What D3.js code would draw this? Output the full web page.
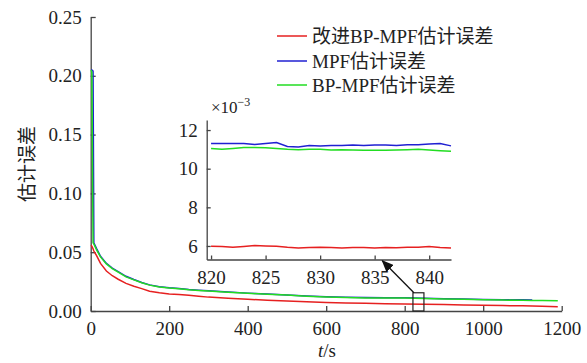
<!DOCTYPE html>
<html>
<head>
<meta charset="utf-8">
<script src="https://cdn.jsdelivr.net/npm/d3@7"></script>
<style>
  body { margin: 0; background: #fff; }
  svg text { font-family: "Times New Roman", "Liberation Serif", Times, "DejaVu Serif", serif, "Noto Sans CJK SC"; fill: #222; }
</style>
</head>
<body>
<div id="chart"></div>
<script>
// main plot data (t in s, error)
var times = [1, 3, 6, 8, 15, 25, 40, 55, 70, 90, 110, 130, 150, 175, 200, 225, 250, 275, 300, 350, 400, 450, 500, 550, 600, 650, 700, 750, 800, 850, 900, 950, 1000, 1050, 1100, 1125, 1150, 1190];
var redErr = [0.056, 0.055, 0.053, 0.051, 0.047, 0.0405, 0.034, 0.030, 0.027, 0.0235, 0.021, 0.019, 0.0168, 0.0155, 0.0145, 0.0141, 0.0134, 0.0126, 0.0118, 0.0108, 0.0100, 0.0092, 0.0085, 0.0078, 0.0072, 0.0068, 0.0065, 0.0062, 0.0060, 0.0057, 0.0055, 0.0052, 0.0049, 0.0046, 0.0044, 0.0042, 0.0040, 0.0037];
var blueErr = [0.205, 0.205, 0.204, 0.058, 0.053, 0.0465, 0.0405, 0.0365, 0.0335, 0.0295, 0.0268, 0.0243, 0.0222, 0.0207, 0.0197, 0.0192, 0.0183, 0.0177, 0.0172, 0.0162, 0.0152, 0.0145, 0.0137, 0.0128, 0.0121, 0.0117, 0.0114, 0.0112, 0.0112, 0.0108, 0.0105, 0.0101, 0.0098, 0.0096, 0.0095, 0.0094, null, null];
var greenErr = [0.205, 0.203, 0.058, 0.057, 0.052, 0.046, 0.040, 0.036, 0.033, 0.029, 0.0265, 0.024, 0.022, 0.0205, 0.0195, 0.019, 0.018, 0.0175, 0.017, 0.016, 0.015, 0.0143, 0.0135, 0.0125, 0.0118, 0.0114, 0.0111, 0.0110, 0.0110, 0.0106, 0.0103, 0.0099, 0.0095, 0.0093, 0.0091, 0.0090, 0.0089, 0.0087];

// inset data (x10^-3)
var insetTimes = [820, 821, 822, 823, 824, 825, 826, 827, 828, 829, 830, 831, 832, 833, 834, 835, 836, 837, 838, 839, 840, 841, 842];
var insetBlue = [11.3, 11.3, 11.3, 11.3, 11.25, 11.3, 11.35, 11.15, 11.12, 11.2, 11.18, 11.2, 11.2, 11.22, 11.2, 11.22, 11.22, 11.2, 11.24, 11.24, 11.28, 11.3, 11.18];
var insetGreen = [11.05, 11.0, 11.05, 11.1, 11.1, 11.08, 11.05, 11.0, 10.98, 11.0, 11.0, 10.97, 10.98, 10.97, 10.95, 10.96, 10.95, 10.97, 10.98, 11.0, 10.97, 10.93, 10.9];
var insetRed = [5.98, 5.97, 5.93, 5.97, 6.02, 6.0, 5.98, 5.93, 5.9, 5.92, 5.93, 5.92, 5.9, 5.92, 5.92, 5.9, 5.92, 5.91, 5.93, 5.93, 5.97, 5.92, 5.89];

var xTicks = [0, 200, 400, 600, 800, 1000, 1200];
var yTicks = [0, 0.05, 0.10, 0.15, 0.20, 0.25];
var insetXTicks = [820, 825, 830, 835, 840];
var insetYTicks = [6, 8, 10, 12];
var legendNames = ["改进BP-MPF估计误差", "MPF估计误差", "BP-MPF估计误差"];

var colors = { red: "#e62020", blue: "#2020d2", green: "#22dd22" };
var axisColor = "#444";

var svgWidth = 587, svgHeight = 363;
var svg = d3.select("#chart").append("svg")
    .attr("width", svgWidth)
    .attr("height", svgHeight);

var x = d3.scaleLinear().domain([0, 1200]).range([90.7, 561.7]);
var y = d3.scaleLinear().domain([0, 0.25]).range([311, 17]);

// main axes, ticks pointing inwards
var xAxis = svg.append("g")
    .attr("transform", "translate(0,311)")
    .call(d3.axisBottom(x).tickValues(xTicks).tickSizeInner(-5).tickSizeOuter(0).tickPadding(11).tickFormat(d3.format("d")));
var yAxis = svg.append("g")
    .attr("transform", "translate(90.7,0)")
    .call(d3.axisLeft(y).tickValues(yTicks).tickSizeInner(-5).tickSizeOuter(0).tickPadding(9).tickFormat(d3.format(".2f")));

[xAxis, yAxis].forEach(function(a) {
    a.attr("font-family", null);
    a.selectAll("path, line").attr("stroke", axisColor).attr("stroke-width", 1.3);
    a.selectAll("text").attr("font-size", "19px").attr("fill", "#222");
});

function drawSeries(g, xs, vals, color, sx, sy) {
    var line = d3.line()
        .defined(function(d) { return d[1] != null; })
        .x(function(d) { return sx(d[0]); })
        .y(function(d) { return sy(d[1]); });
    g.append("path")
        .datum(xs.map(function(t, i) { return [t, vals[i]]; }))
        .attr("fill", "none")
        .attr("stroke", color)
        .attr("stroke-width", 1.5)
        .attr("d", line);
}

var plot = svg.append("g");
drawSeries(plot, times, redErr, colors.red, x, y);
drawSeries(plot, times, blueErr, colors.blue, x, y);
drawSeries(plot, times, greenErr, colors.green, x, y);

// axis titles
svg.append("text")
    .attr("transform", "translate(27,164) rotate(-90)")
    .attr("text-anchor", "middle")
    .attr("dy", "0.35em")
    .attr("font-size", "19px")
    .text("估计误差");

var xTitle = svg.append("text")
    .attr("x", 327)
    .attr("y", 357)
    .attr("text-anchor", "middle")
    .attr("font-size", "19px");
xTitle.append("tspan").attr("font-style", "italic").text("t");
xTitle.append("tspan").text("/s");

// zoom box
var boxT0 = 821, boxT1 = 849, boxE = 0.0155;
svg.append("rect")
    .attr("x", x(boxT0))
    .attr("y", y(boxE))
    .attr("width", x(boxT1) - x(boxT0))
    .attr("height", y(0) - y(boxE))
    .attr("fill", "none")
    .attr("stroke", "#222")
    .attr("stroke-width", 1.2);

// inset
var ix = d3.scaleLinear().domain([819.6, 842]).range([206.7, 451]);
var iy = d3.scaleLinear().domain([5.3, 12.52]).range([259.5, 120]);

var inset = svg.append("g");
var ixAxis = inset.append("g")
    .attr("transform", "translate(0,259.5)")
    .call(d3.axisBottom(ix).tickValues(insetXTicks).tickSizeInner(-4).tickSizeOuter(0).tickPadding(11));
var iyAxis = inset.append("g")
    .attr("transform", "translate(206.7,0)")
    .call(d3.axisLeft(iy).tickValues(insetYTicks).tickSizeInner(-4).tickSizeOuter(0).tickPadding(9));
[ixAxis, iyAxis].forEach(function(a) {
    a.attr("font-family", null);
    a.selectAll("path, line").attr("stroke", axisColor).attr("stroke-width", 1.3);
    a.selectAll("text").attr("font-size", "19px").attr("fill", "#222");
});

drawSeries(inset, insetTimes, insetBlue, colors.blue, ix, iy);
drawSeries(inset, insetTimes, insetGreen, colors.green, ix, iy);
drawSeries(inset, insetTimes, insetRed, colors.red, ix, iy);

var expo = inset.append("text")
    .attr("x", 211)
    .attr("y", 113)
    .attr("font-size", "17px");
expo.append("tspan").text("×10");
expo.append("tspan").attr("dy", "-7").attr("font-size", "12px").text("−3");

// arrow from box to inset
svg.append("defs").append("marker")
    .attr("id", "arrowHead")
    .attr("viewBox", "0 0 12 10")
    .attr("refX", 11)
    .attr("refY", 5)
    .attr("markerWidth", 12)
    .attr("markerHeight", 10)
    .attr("markerUnits", "userSpaceOnUse")
    .attr("orient", "auto")
    .append("path")
    .attr("d", "M0,0 L12,5 L0,10 Z")
    .attr("fill", "#111");

svg.append("line")
    .attr("x1", x(boxT0) + 1)
    .attr("y1", y(boxE))
    .attr("x2", ix(835.7))
    .attr("y2", 260.8)
    .attr("stroke", "#111")
    .attr("stroke-width", 1.3)
    .attr("marker-end", "url(#arrowHead)");

// legend
var legend = svg.append("g");
var legendColors = [colors.red, colors.blue, colors.green];
var legendY = [36, 61, 85];
legendNames.forEach(function(name, i) {
    legend.append("line")
        .attr("x1", 277).attr("x2", 307)
        .attr("y1", legendY[i]).attr("y2", legendY[i])
        .attr("stroke", legendColors[i])
        .attr("stroke-width", 1.5);
    legend.append("text")
        .attr("x", 312)
        .attr("y", legendY[i])
        .attr("dy", "0.36em")
        .attr("font-size", "19px")
        .text(name);
});
</script>
</body>
</html>
